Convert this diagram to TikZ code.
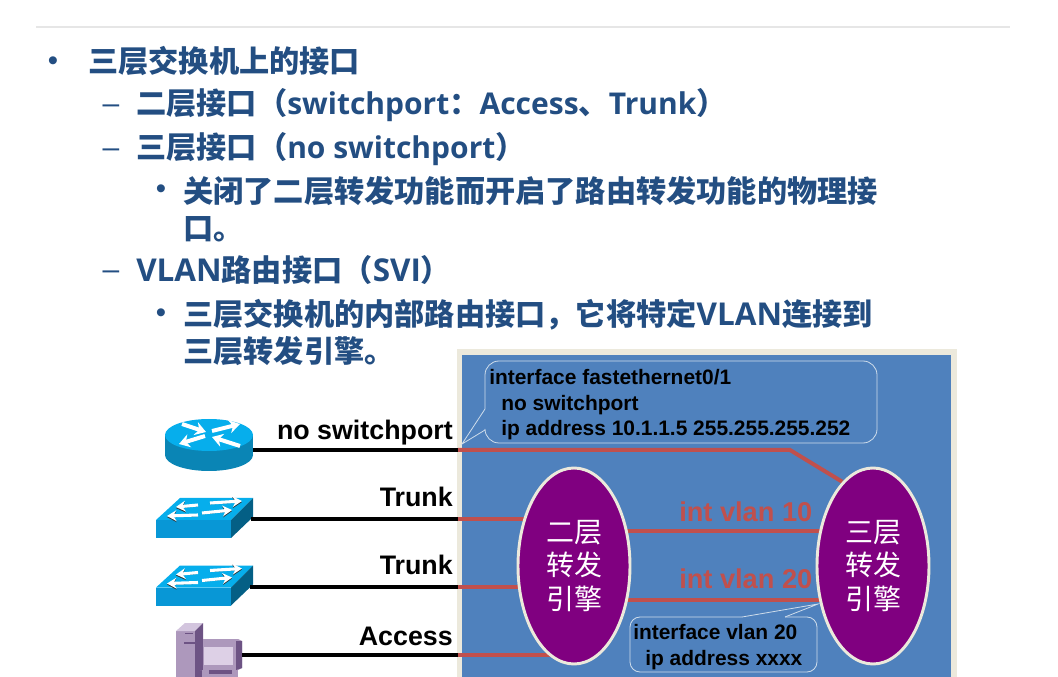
\documentclass[tikz,border=0pt]{standalone}
\usepackage{fontspec}
\usepackage{xcolor}
\usepackage{tikz}
\usetikzlibrary{shapes.geometric, arrows.meta, positioning, backgrounds, calc}
\setmainfont{Open Sans}
\newfontfamily\zhfont{Noto Sans CJK SC}
\newfontfamily\labelfont{Liberation Sans}
\newcommand{\zh}[1]{{\zhfont\fontsize{22.65}{27}\selectfont #1}}
\newcommand{\capsword}[1]{{\fontsize{23.6}{27}\selectfont #1}}
\definecolor{heading}{HTML}{234E82}
\definecolor{panelblue}{HTML}{4F81BD}
\definecolor{panelrim}{HTML}{ECE9DC}
\definecolor{linkred}{HTML}{C0504D}
\definecolor{engine}{HTML}{800080}
\definecolor{ciscotop}{HTML}{06AEEC}
\definecolor{ciscoside}{HTML}{0A85B5}
\definecolor{ciscofront}{HTML}{0897D6}
\definecolor{ciscodark}{HTML}{045F85}
\definecolor{pclight}{HTML}{DDD0E6}
\definecolor{pcmid}{HTML}{AD98BC}
\definecolor{pcdark}{HTML}{6D5384}
\definecolor{rule}{HTML}{E6E6E6}
\definecolor{calloutline}{HTML}{CFDDEB}
\newlength{\pxunit}
\setlength{\pxunit}{0.75pt}
\tikzset{
  level1/.style={anchor=base west, inner sep=0pt, text=heading, font=\fontsize{22.5}{27}\selectfont\bfseries},
  mark1/.style={anchor=center, inner sep=0pt, text=heading, font=\labelfont\fontsize{22}{24}\selectfont},
  mark2/.style={anchor=center, inner sep=0pt, text=heading, font=\labelfont\fontsize{22.5}{27}\selectfont},
  portlabel/.style={anchor=base east, inner sep=0pt, text=black, font=\labelfont\fontsize{20.1}{24}\selectfont\bfseries},
  vlanlabel/.style={anchor=base west, inner sep=0pt, text=linkred, font=\labelfont\fontsize{20.4}{24}\selectfont\bfseries},
  configtext/.style={anchor=base west, inner sep=0pt, text=black, font=\labelfont\fontsize{15.7}{19}\selectfont\bfseries},
  forwarder/.style={
    ellipse, minimum width=112\pxunit, minimum height=196\pxunit, inner sep=0pt,
    draw=panelrim, line width=2.2pt, fill=engine, text=white, align=center,
    font=\zhfont\fontsize{21}{25}\selectfont,
  },
  blackline/.style={black, line width=3pt},
  redline/.style={linkred, line width=3pt},
  callout/.style={draw=calloutline, line width=0.6pt},
  hoparrow/.style={-{Stealth[length=8pt,width=10pt]}, white, line width=3pt},
  swarrow/.style={-{Stealth[length=7pt,width=8pt]}, white, line width=2.3pt,
    preaction={draw=black!80, transform canvas={yshift=-0.8pt}}},
  switchicon/.pic={
    \fill[ciscofront] (156,520) rectangle (231,538);
    \fill[ciscotop] (156,520)--(231,520)--(253,498)--(180,498)--cycle;
    \fill[ciscodark] (231,520)--(253,498)--(253,517)--(231,538)--cycle;
    \draw[swarrow] (210,503)--(242,501);
    \draw[swarrow] (198,505)--(176,507);
    \draw[swarrow] (202,513)--(232,510);
    \draw[swarrow] (198,515)--(167,516);
  },
}
\begin{document}
\begin{tikzpicture}[x=0.75pt,y=-0.75pt]
  \useasboundingbox (0,0) rectangle (1058,677);
  \draw[rule,line width=1.5pt] (36,27)--(1010,27);

  \node[mark1] (b1) at (53,64) {•};
  \node[level1] (t1) at (88,73) {\zh{三层交换机上的接口}};
  \node[mark2] (d1) at (111,109) {–};
  \node[level1] (t2) at (136,115) {\zh{二层接口（}switchport\zh{：}Access\zh{、}Trunk\zh{）}};
  \node[mark2] (d2) at (111,153) {–};
  \node[level1] (t3) at (136,159) {\zh{三层接口（}no switchport\zh{）}};
  \node[mark1] (b2) at (161,192) {•};
  \node[level1] (t4) at (183,203) {\zh{关闭了二层转发功能而开启了路由转发功能的物理接}};
  \node[level1] (t5) at (183,240) {\zh{口。}};
  \node[mark2] (d3) at (111,275) {–};
  \node[level1] (t6) at (136,282) {\capsword{VLAN}\zh{路由接口（}\capsword{SVI}\zh{）}};
  \node[mark1] (b3) at (161,316) {•};
  \node[level1] (t7) at (183,326) {\zh{三层交换机的内部路由接口，它将特定}\capsword{VLAN}\zh{连接到}};
  \node[level1] (t8) at (183,363) {\zh{三层转发引擎。}};

  \node[forwarder] (layertwo) at (574,566) {二层\\转发\\引擎};
  \node[forwarder] (layerthree) at (873,566) {三层\\转发\\引擎};

  \coordinate (routerport) at (253,450);
  \coordinate (switchaport) at (251,519);
  \coordinate (switchbport) at (250,587);
  \coordinate (pcport) at (242,655);
  \coordinate (uplink) at (458,450);
  \coordinate (trunka) at (458,519);
  \coordinate (trunkb) at (458,587);
  \coordinate (accessp) at (458,655);
  \coordinate (bend) at (790,450);
  \coordinate (vlanten) at (574,531);
  \coordinate (vlantwenty) at (574,600);

  \begin{scope}[on background layer]
    \fill[panelrim] (457,349) rectangle (957,677);
    \fill[panelblue] (462,355) rectangle (951,677);

    \fill[ciscoside] (165,435) rectangle (253,455);
    \fill[ciscoside] (209,455) ellipse[x radius=44,y radius=16];
    \fill[ciscotop] (209,435) ellipse[x radius=44,y radius=16];
    \draw[hoparrow] (182,424)--(206,432);
    \draw[hoparrow] (212,431)--(240,424);
    \draw[hoparrow] (205,436)--(179,444);
    \draw[hoparrow] (240,446)--(212,437);
    \pic at (0,0) {switchicon};
    \pic at (0,67.5) {switchicon};

    \fill[pcmid] (176,631) rectangle (195,677);
    \fill[pclight!80!pcmid] (176,631)--(185,623)--(203,623)--(195,631)--cycle;
    \fill[pcdark] (195,631)--(203,623)--(203,677)--(195,677)--cycle;
    \fill[pcdark] (185,632.5) rectangle (193,634);
    \fill[pcdark] (184,642) rectangle (196,644);
    \fill[pcmid] (200,639)--(238,639)--(242,641)--(242,668)--(238,670)--(200,670)--cycle;
    \fill[pcdark] (200,639) rectangle (203,670);
    \fill[pcdark] (236,641)--(242,641)--(242,668)--(236,670)--cycle;
    \fill[pclight] (204,647) rectangle (233,665);
    \fill[pcmid] (202,670) rectangle (238,677);
    \fill[pcdark] (209,670) rectangle (232,674);

    \draw[blackline] (routerport)--(uplink);
    \draw[blackline] (switchaport)--(trunka);
    \draw[blackline] (switchbport)--(trunkb);
    \draw[blackline] (pcport)--(accessp);
    \draw[redline] (uplink)--(bend)--(layerthree.110);
    \draw[redline] (trunka)--(trunka-|layertwo);
    \draw[redline] (trunkb)--(trunkb-|layertwo);
    \draw[redline] (accessp)--(accessp-|layertwo);
    \draw[redline] (vlanten)--(vlanten-|layerthree);
    \draw[redline] (vlantwenty)--(vlantwenty-|layerthree);
  \end{scope}

  \node[portlabel] (lnosw) at (453,440) {no switchport};
  \node[portlabel] (ltrka) at (453,507) {Trunk};
  \node[portlabel] (ltrkb) at (453,575) {Trunk};
  \node[portlabel] (lacc) at (453,645) {Access};
  \node[vlanlabel] (lvten) at (679,522) {int vlan 10};
  \node[vlanlabel] (lvtw) at (679,589) {int vlan 20};

  \coordinate (tipa) at (462,444);
  \coordinate (tipb) at (818,604);
  \draw[callout,rounded corners=14\pxunit] (485,409)--(485,361)--(877,361)--(877,443)--(485,443)--(485,430);
  \draw[callout] (485,409)--(tipa)--(485,430);
  \draw[callout,rounded corners=10\pxunit] (742,617)--(630,617)--(630,672)--(817,672)--(817,617)--(785,617);
  \draw[callout] (742,617)--(tipb)--(785,617);

  \node[configtext] (cfga) at (489,385) {interface fastethernet0/1};
  \node[configtext] (cfgb) at (501,411) {no switchport};
  \node[configtext] (cfgc) at (501,436) {ip address 10.1.1.5 255.255.255.252};
  \node[configtext] (cfgd) at (633,639) {interface vlan 20};
  \node[configtext] (cfge) at (645,665) {ip address xxxx};
\end{tikzpicture}
\end{document}
